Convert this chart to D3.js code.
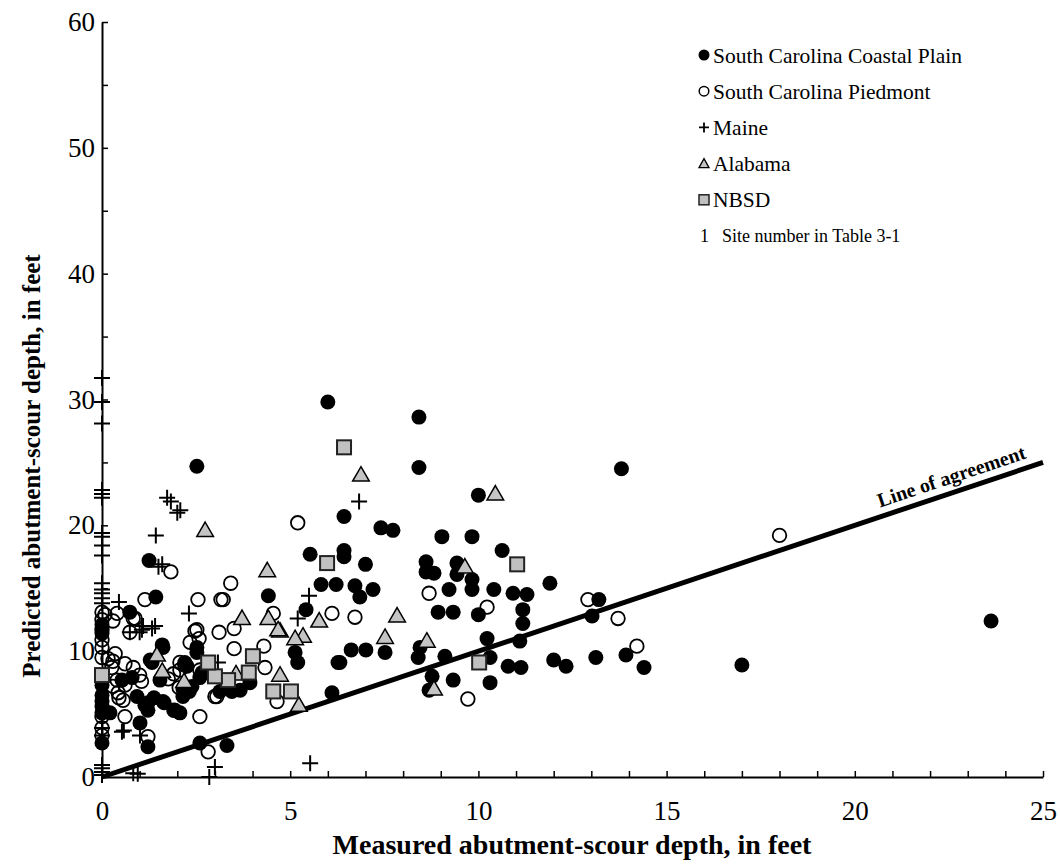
<!DOCTYPE html>
<html>
<head>
<meta charset="utf-8">
<script src="https://cdn.jsdelivr.net/npm/d3@7"></script>
<style>
  body { margin: 0; background: #fff; }
  svg { font-family: "Liberation Serif", "Times New Roman", serif; }
</style>
</head>
<body>
<div id="chart"></div>
<script>
// measured vs predicted abutment-scour depth ([measured, predicted] in feet)

var coastalPlain = [
    [6.0, 29.8], [8.42, 28.6], [8.42, 24.6], [2.52, 24.7], [13.8, 24.5], [10.0, 22.4], [23.62, 12.4], [17.0, 8.9],
    [6.43, 20.7], [7.41, 19.8], [7.73, 19.6], [9.03, 19.1], [9.83, 19.1],
    [5.53, 17.7], [6.43, 18.0], [6.43, 17.5], [7.0, 16.9],
    [5.82, 15.3], [6.22, 15.3], [6.72, 15.2], [7.2, 14.9], [6.85, 14.3], [5.42, 13.3],
    [5.13, 9.9], [5.2, 9.1], [6.32, 9.1], [6.62, 10.1], [7.01, 10.1], [7.52, 9.9], [6.11, 6.7],
    [8.61, 17.1], [8.61, 16.3], [8.82, 16.2], [9.43, 17.0], [9.43, 16.1], [9.83, 15.7], [9.83, 14.9], [9.22, 14.9],
    [10.63, 18.0], [10.41, 14.9], [10.92, 14.6], [11.29, 14.5], [8.93, 13.1], [9.33, 13.1], [10.0, 12.9],
    [11.18, 13.3], [11.18, 12.2], [10.23, 11.0], [11.1, 10.8], [8.45, 10.3], [8.4, 9.5], [9.11, 9.6], [10.31, 9.5],
    [10.79, 8.8], [11.13, 8.7], [8.77, 8.0], [8.69, 6.9], [9.33, 7.7], [10.31, 7.5],
    [11.9, 15.4], [13.2, 14.1], [13.02, 12.8], [13.92, 9.7], [14.4, 8.7], [12.0, 9.3], [12.33, 8.8], [13.12, 9.5],
    [1.25, 17.2], [1.43, 14.3], [0.74, 13.1], [4.42, 14.4],
    [3.13, 6.8], [3.45, 6.8], [3.67, 6.9], [3.93, 7.5], [6.27, 9.1],
    [1.62, 10.3], [1.33, 9.1], [2.52, 10.3], [2.52, 9.9], [2.26, 8.8], [1.54, 7.7], [2.39, 7.2], [2.6, 7.9],
    [2.15, 6.4], [2.07, 5.1], [1.62, 6.0], [0.93, 6.4], [1.22, 5.9], [1.22, 5.3], [1.01, 4.3], [1.22, 2.4],
    [2.6, 2.7], [3.32, 2.5], [0.21, 5.1],
    [0.53, 7.7], [0.8, 7.9], [1.38, 6.3], [1.65, 5.9], [1.94, 5.3], [2.15, 7.0], [2.32, 6.8], [2.2, 9.1],
    [2.66, 8.3], [1.6, 10.5], [1.28, 9.3], [1.14, 5.7],
    [0, 12.1], [0, 11.4], [0, 7.3], [0, 6.5], [0, 6.0], [0, 5.6], [0, 5.1], [0, 2.7]
];

var piedmont = [
    [18.0, 19.2], [5.2, 20.2], [6.11, 13.0], [6.72, 12.7], [8.69, 14.6], [10.23, 13.5], [9.72, 6.2],
    [12.91, 14.1], [13.71, 12.6], [14.21, 10.4],
    [1.83, 16.3], [1.14, 14.1], [2.55, 14.1], [3.16, 14.1], [0.88, 12.6], [0.08, 12.9],
    [3.42, 15.4], [3.22, 14.1], [4.55, 13.0], [3.11, 11.5], [3.51, 11.8], [3.51, 10.2], [4.3, 10.4],
    [4.33, 8.7], [4.65, 6.0], [3.0, 6.4],
    [2.52, 11.7], [2.34, 10.7], [2.07, 9.1], [2.2, 8.9], [1.76, 7.8], [1.9, 8.2], [2.07, 8.5], [2.6, 8.5],
    [2.05, 7.1], [2.2, 6.9], [3.05, 6.4], [1.91, 5.3], [2.6, 4.8], [0.61, 4.8], [1.22, 3.2], [2.82, 2.0],
    [0.56, 6.1], [0.43, 6.7], [0.29, 7.2], [0.4, 7.7], [0.83, 8.7], [1.0, 8.1], [1.05, 7.6],
    [0.16, 9.4], [0.29, 9.2], [0.26, 8.7], [0.29, 12.4], [0.4, 13.0], [0.74, 11.5], [0.83, 12.6],
    [0.35, 9.8], [0.61, 9.0], [0.61, 7.3], [0.45, 6.3], [2.47, 11.6], [2.58, 11.0],
    [0, 13.1], [0, 12.5], [0, 11.7], [0, 10.9], [0, 10.3], [0, 9.5], [0, 4.8], [0, 3.9], [0, 3.3]
];

var maine = [
    [1.73, 22.2], [1.83, 21.9], [2.0, 21.0], [2.08, 21.2], [1.43, 19.2], [1.5, 16.7], [1.6, 16.9],
    [0.45, 13.9], [2.31, 13.0], [6.83, 21.9], [5.5, 14.4], [5.2, 12.6], [5.53, 1.1], [3.0, 0.8], [2.85, 0.0],
    [0.83, 0.3], [0.95, 0.25], [0.53, 3.6], [1.01, 3.3], [0.58, 3.7],
    [0.74, 11.5], [1.0, 11.5], [1.09, 12.0], [1.41, 12.0], [1.06, 11.7], [1.33, 11.8], [3.08, 9.1],
    [0, 31.7], [0, 29.8], [0, 28.1], [0, 22.8], [0, 22.5], [0, 22.2], [0, 19.4], [0, 19.1], [0, 18.4],
    [0, 17.6], [0, 15.4], [0, 14.9], [0, 14.6], [0, 14.2], [0, 13.8],
    [0, 0.95], [0, 0.7], [0, 0.4], [0, 0.15], [0, 3.9], [0, 3.3]
];

var alabama = [
    [6.88, 23.9], [10.45, 22.4], [2.74, 19.5], [9.64, 16.6], [8.63, 10.7], [8.82, 6.9], [5.77, 12.3],
    [7.84, 12.7], [5.34, 11.1], [5.13, 10.9], [4.73, 11.5], [7.52, 11.0], [5.23, 5.6], [4.73, 8.0],
    [4.39, 16.3], [4.42, 12.5], [3.72, 12.5], [4.68, 11.6], [3.56, 8.1], [1.46, 9.6], [1.6, 8.3], [2.18, 7.5]
];

var nbsd = [
    [6.43, 26.2], [5.98, 17.0], [11.03, 16.9], [10.02, 9.1], [5.02, 6.8], [4.55, 6.8], [4.01, 9.6],
    [3.9, 8.3], [3.35, 7.7], [3.0, 8.0], [2.82, 9.1], [0, 8.1]
];

var legendLabels = ["South Carolina Coastal Plain", "South Carolina Piedmont", "Maine", "Alabama", "NBSD"];
var yTickLabels = [0, 10, 20, 30, 40, 50, 60];
var xTickLabels = [0, 5, 10, 15, 20, 25];
var agreement = [[0, 0], [25, 25]];

var width = 1060, height = 868;

var svg = d3.select("#chart")
    .append("svg")
    .attr("width", width)
    .attr("height", height);

var x = d3.scaleLinear().domain([0, 25]).range([102, 1043]);
var y = d3.scaleLinear().domain([0, 60]).range([777, 22]);

// Axes - ticks point into the plot
var yAxis = svg.append("g")
    .attr("transform", "translate(" + x(0) + ",0)")
    .call(d3.axisLeft(y)
        .tickValues(d3.range(0, 61, 5))
        .tickSizeInner(-6)
        .tickSizeOuter(0)
        .tickPadding(7)
        .tickFormat(function (d) { return yTickLabels.indexOf(d) >= 0 ? d : ""; }));

var xAxis = svg.append("g")
    .attr("transform", "translate(0," + y(0) + ")")
    .call(d3.axisBottom(x)
        .tickValues(d3.range(0, 26, 1))
        .tickSizeInner(-6)
        .tickSizeOuter(0)
        .tickPadding(24)
        .tickFormat(function (d) { return xTickLabels.indexOf(d) >= 0 ? d : ""; }));

svg.selectAll(".domain").attr("stroke", "#000").attr("stroke-width", 2);
svg.selectAll(".tick line").attr("stroke", "#000").attr("stroke-width", 1.5);
svg.selectAll(".tick text")
    .attr("font-family", "Liberation Serif")
    .attr("font-size", "27px")
    .attr("fill", "#000");

// Axis titles
svg.append("text")
    .text("Measured abutment-scour depth, in feet")
    .attr("x", 572)
    .attr("y", 854)
    .attr("text-anchor", "middle")
    .attr("font-weight", "bold")
    .attr("font-size", "28px");

svg.append("text")
    .text("Predicted abutment-scour depth, in feet")
    .attr("transform", "translate(40,466) rotate(-90)")
    .attr("text-anchor", "middle")
    .attr("font-weight", "bold")
    .attr("font-size", "25px");

var plot = svg.append("g");

// Open circles first, filled ones sit on top of them
plot.selectAll(".pied")
    .data(piedmont)
    .enter()
    .append("circle")
    .attr("cx", function (d) { return x(d[0]); })
    .attr("cy", function (d) { return y(d[1]); })
    .attr("r", 6.8)
    .attr("fill", "none")
    .attr("stroke", "#000")
    .attr("stroke-width", 1.8);

plot.selectAll(".coast")
    .data(coastalPlain)
    .enter()
    .append("circle")
    .attr("cx", function (d) { return x(d[0]); })
    .attr("cy", function (d) { return y(d[1]); })
    .attr("r", 7.5)
    .attr("fill", "#000");

plot.selectAll(".maine")
    .data(maine)
    .enter()
    .append("path")
    .attr("transform", function (d) { return "translate(" + x(d[0]) + "," + y(d[1]) + ")"; })
    .attr("d", "M-8,0H8M0,-8V8")
    .attr("stroke", "#000")
    .attr("stroke-width", 2);

// Line of agreement
plot.append("path")
    .datum(agreement)
    .attr("d", d3.line().x(function (d) { return x(d[0]); }).y(function (d) { return y(d[1]); }))
    .attr("stroke", "#000")
    .attr("stroke-width", 5)
    .attr("fill", "none");

var triangle = d3.symbol().type(d3.symbolTriangle).size(120);
plot.selectAll(".ala")
    .data(alabama)
    .enter()
    .append("path")
    .attr("transform", function (d) { return "translate(" + x(d[0]) + "," + y(d[1]) + ")"; })
    .attr("d", triangle)
    .attr("fill", "#c4c4c4")
    .attr("stroke", "#000")
    .attr("stroke-width", 1.5);

plot.selectAll(".nbsd")
    .data(nbsd)
    .enter()
    .append("rect")
    .attr("x", function (d) { return x(d[0]) - 7; })
    .attr("y", function (d) { return y(d[1]) - 7; })
    .attr("width", 14)
    .attr("height", 14)
    .attr("fill", "#c0c0c0")
    .attr("stroke", "#222")
    .attr("stroke-width", 2);

var ang = -Math.atan((y(0) - y(25)) / (x(25) - x(0))) * 180 / Math.PI;
svg.append("text")
    .text("Line of agreement")
    .attr("transform", "translate(" + x(22.7) + "," + y(22.7) + ") rotate(" + ang + ") translate(0,-9)")
    .attr("text-anchor", "middle")
    .attr("font-weight", "bold")
    .attr("font-size", "20px");

// Legend
var legend = svg.append("g").attr("transform", "translate(704,55)");
var rowH = 36.2;

legendLabels.forEach(function (label, i) {
    var g = legend.append("g").attr("transform", "translate(0," + (i * rowH) + ")");
    if (i === 0) {
        g.append("circle").attr("r", 5.5).attr("fill", "#000");
    } else if (i === 1) {
        g.append("circle").attr("r", 4.8).attr("fill", "none").attr("stroke", "#000").attr("stroke-width", 1.5);
    } else if (i === 2) {
        g.append("path").attr("d", "M-5,0H5M0,-5V5").attr("stroke", "#000").attr("stroke-width", 1.8);
    } else if (i === 3) {
        g.append("path").attr("d", "M0,-5L5,4H-5Z").attr("fill", "#c4c4c4").attr("stroke", "#000").attr("stroke-width", 1.3);
    } else {
        g.append("rect").attr("x", -5).attr("y", -5).attr("width", 10).attr("height", 10)
            .attr("fill", "#c0c0c0").attr("stroke", "#222").attr("stroke-width", 1.5);
    }
    g.append("text")
        .text(label)
        .attr("x", 9)
        .attr("dy", "0.35em")
        .attr("font-size", "21.5px");
});

legend.append("text")
    .text("1")
    .attr("x", -4)
    .attr("y", 5 * rowH)
    .attr("dy", "0.35em")
    .attr("font-size", "18px");
legend.append("text")
    .text("Site number in Table 3-1")
    .attr("x", 18)
    .attr("y", 5 * rowH)
    .attr("dy", "0.35em")
    .attr("font-size", "18px");
</script>
</body>
</html>
